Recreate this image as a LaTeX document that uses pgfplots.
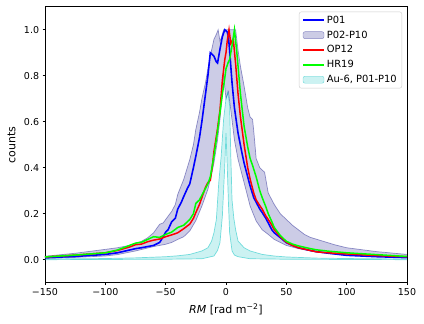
\documentclass[border=0pt]{standalone}
\usepackage{fontspec}
\setmainfont{DejaVu Sans}
\usepackage{pgfplots}
\pgfplotsset{compat=1.18}
\usepgfplotslibrary{fillbetween}
\definecolor{navyc}{RGB}{0,0,128}
\definecolor{cc}{RGB}{0,191,191}
\definecolor{limec}{RGB}{0,255,0}
\definecolor{redc}{RGB}{255,0,0}
\definecolor{bluec}{RGB}{0,0,255}
\newcommand\fs{\fontsize{9.5pt}{11pt}\selectfont}
\newcommand\fl{\fontsize{9.9pt}{11.5pt}\selectfont}
\newcommand\fa{\fontsize{11pt}{13pt}\selectfont}
\pgfplotsset{
  myarealegend/.style={legend image code/.code={\draw (0pt,-3.5pt) rectangle (21pt,3.5pt);}},
}
\begin{document}
\begin{tikzpicture}
\begin{axis}[scale only axis, width=362pt, height=276pt,
  xmin=-150, xmax=150, ymin=-0.1, ymax=1.1,
  xtick={-150,-100,-50,0,50,100,150},
  xticklabels={−150,−100,−50,0,50,100,150},
  ytick={0,0.2,0.4,0.6,0.8,1.0},
  yticklabels={0.0,0.2,0.4,0.6,0.8,1.0},
  tick align=outside, tick pos=left, major tick length=2.4pt,
  every tick/.style={black, line width=0.55pt},
  axis line style={line width=0.55pt},
  xticklabel style={font=\fs}, yticklabel style={font=\fs},
  xlabel={\textit{RM} [rad m\textsuperscript{−2}]}, ylabel={counts},
  xlabel style={font=\fa, at={(axis description cs:0.5,-0.098)}, anchor=center},
  ylabel style={font=\fa, at={(axis description cs:-0.092,0.5)}, anchor=center},
  legend style={at={(1,1)}, anchor=north east, xshift=-5pt, yshift=-5pt,
    draw=gray!40, rounded corners=2pt, fill=white, fill opacity=0.8, text opacity=1,
    font=\fl, row sep=2pt, cells={anchor=west}, inner xsep=3pt, inner ysep=2pt},
]
% legend
\addlegendimage{draw=bluec, line width=1.6pt, legend image code/.code={\draw[draw=bluec, line width=1.7pt] (0pt,0pt) -- (21pt,0pt);}}\addlegendentry{P01}
\addlegendimage{fill=navyc, fill opacity=0.2, draw=navyc, draw opacity=0.4, myarealegend}\addlegendentry{P02-P10}
\addlegendimage{draw=redc, line width=1.5pt, legend image code/.code={\draw[draw=redc, line width=1.5pt] (0pt,0pt) -- (21pt,0pt);}}\addlegendentry{OP12}
\addlegendimage{draw=limec, line width=1.5pt, legend image code/.code={\draw[draw=limec, line width=1.5pt] (0pt,0pt) -- (21pt,0pt);}}\addlegendentry{HR19}
\addlegendimage{fill=cc, fill opacity=0.2, draw=cc, draw opacity=0.5, myarealegend}\addlegendentry{Au-6, P01-P10}

% P02-P10 band
\addplot[name path=bu, draw=navyc, draw opacity=0.4, line width=0.7pt, forget plot] coordinates {
(-150,0.015)(-125,0.028)(-100,0.045)(-90,0.052)(-80,0.062)(-70,0.08)(-65,0.095)(-60,0.117)
(-55,0.154)(-52,0.16)(-50,0.175)(-45,0.21)(-42,0.24)(-40,0.284)(-35,0.35)(-30,0.436)
(-27,0.5)(-25,0.567)(-22,0.64)(-20,0.70)(-17,0.77)(-15,0.83)(-12,0.91)(-10,0.958)(-8,0.98)
(-6.5,1.0)(-5,0.95)(-3.5,0.97)(-2,1.0)(8,1.0)(10,0.91)(12,0.84)(15,0.755)(18,0.66)(20,0.62)
(22,0.61)(23,0.56)(25,0.44)(28,0.4)(30,0.39)(32,0.38)(35,0.29)(40,0.24)(45,0.2)(50,0.175)
(55,0.15)(60,0.13)(65,0.11)(70,0.097)(80,0.081)(90,0.065)(100,0.052)(125,0.035)(150,0.023)};
\addplot[name path=bl, draw=navyc, draw opacity=0.4, line width=0.7pt, forget plot] coordinates {
(-150,0.005)(-125,0.01)(-100,0.016)(-90,0.022)(-75,0.038)(-60,0.057)(-50,0.067)(-45,0.075)
(-40,0.088)(-35,0.1)(-30,0.125)(-25,0.17)(-20,0.233)(-15,0.306)(-12,0.37)(-10,0.42)(-7,0.52)
(-5,0.61)(-3,0.72)(-2,0.81)(-1,0.75)(0,0.70)(2,0.73)(4,0.65)(7,0.52)(10,0.436)(15,0.335)
(20,0.233)(25,0.168)(30,0.13)(35,0.11)(40,0.088)(50,0.062)(60,0.048)(75,0.033)(100,0.019)
(125,0.015)(150,0.012)};
\addplot[fill=navyc, fill opacity=0.2, draw=none, forget plot] fill between[of=bu and bl];

% Au-6 band
\addplot[name path=cu, draw=cc, draw opacity=0.5, line width=0.7pt, forget plot] coordinates {
(-150,0.003)(-100,0.005)(-75,0.008)(-50,0.013)(-40,0.017)(-30,0.023)(-20,0.038)(-15,0.052)
(-12,0.08)(-10,0.117)(-8,0.175)(-6,0.335)(-4,0.45)(-2,0.61)(0,0.70)(1.5,0.73)(3,0.67)(4,0.45)
(5,0.26)(6.5,0.18)(8,0.13)(10,0.081)(15,0.052)(20,0.038)(30,0.023)(40,0.016)(50,0.012)
(75,0.007)(100,0.005)(150,0.003)};
\addplot[name path=cl, draw=cc, draw opacity=0.5, line width=0.7pt, forget plot] coordinates {
(-150,0.0)(-50,0.002)(-20,0.004)(-10,0.016)(-7,0.04)(-5,0.074)(-3,0.19)(-2,0.3)(-1,0.41)
(0,0.55)(1,0.41)(2,0.25)(3,0.117)(5,0.038)(7,0.02)(10,0.013)(20,0.004)(50,0.002)(150,0.0)};
\addplot[fill=cc, fill opacity=0.2, draw=none, forget plot] fill between[of=cu and cl];

% P01
\addplot[bluec, line width=1.6pt, forget plot] coordinates {
(-150,0.009)(-125,0.014)(-100,0.023)(-90,0.03)(-80,0.042)(-75,0.048)(-70,0.052)(-65,0.057)
(-60,0.062)(-55,0.075)(-52,0.1)(-50,0.12)(-48,0.13)(-45,0.165)(-42,0.18)(-40,0.22)(-37,0.25)
(-35,0.275)(-32,0.31)(-30,0.33)(-27,0.4)(-25,0.45)(-22,0.53)(-20,0.6)(-17,0.72)(-15,0.8)
(-13,0.9)(-10,0.885)(-8,0.86)(-7,0.855)(-5,0.915)(-3,0.97)(-1,1.0)(1,0.99)(2,0.97)(3,0.91)
(5,0.77)(7,0.66)(10,0.55)(13,0.47)(15,0.42)(18,0.36)(20,0.32)(23,0.27)(25,0.25)(28,0.22)
(30,0.205)(33,0.18)(35,0.16)(38,0.13)(40,0.117)(45,0.096)(50,0.074)(55,0.062)(60,0.052)
(70,0.04)(75,0.035)(85,0.028)(100,0.019)(125,0.013)(150,0.009)};
% OP12
\addplot[redc, line width=1.5pt, forget plot] coordinates {
(-150,0.012)(-125,0.02)(-100,0.03)(-90,0.04)(-80,0.055)(-75,0.065)(-70,0.068)(-65,0.078)
(-60,0.085)(-55,0.09)(-50,0.1)(-45,0.108)(-40,0.117)(-35,0.135)(-30,0.155)(-27,0.18)(-25,0.205)
(-22,0.24)(-20,0.27)(-17,0.315)(-15,0.335)(-13,0.345)(-11,0.42)(-10,0.47)(-7,0.57)(-5,0.65)
(-3,0.78)(-1,0.87)(0,0.9)(1,0.95)(2.5,1.0)(4,0.94)(6,0.96)(8,0.85)(10,0.72)(12,0.62)(15,0.5)
(18,0.4)(20,0.35)(23,0.29)(25,0.26)(28,0.235)(30,0.22)(33,0.19)(35,0.175)(38,0.15)(40,0.13)
(45,0.1)(50,0.076)(55,0.062)(60,0.052)(70,0.04)(75,0.034)(85,0.03)(100,0.025)(125,0.018)(150,0.013)};
% HR19
\addplot[limec, line width=1.5pt, forget plot] coordinates {
(-150,0.012)(-125,0.02)(-100,0.03)(-90,0.042)(-80,0.062)(-75,0.072)(-70,0.076)(-65,0.088)
(-60,0.1)(-55,0.097)(-50,0.11)(-45,0.12)(-40,0.14)(-35,0.15)(-30,0.175)(-27,0.2)(-25,0.245)
(-22,0.26)(-20,0.28)(-17,0.31)(-15,0.33)(-13,0.36)(-11,0.42)(-10,0.45)(-7,0.56)(-5,0.64)
(-3,0.72)(-1,0.79)(0,0.83)(2,0.86)(3,0.87)(5,0.93)(7,1.0)(9,0.9)(10,0.84)(12,0.72)(15,0.58)
(18,0.49)(20,0.44)(22,0.41)(25,0.36)(28,0.3)(30,0.27)(33,0.23)(35,0.2)(38,0.165)(40,0.14)
(45,0.105)(50,0.08)(55,0.068)(60,0.06)(70,0.048)(75,0.043)(85,0.037)(100,0.03)(125,0.022)(150,0.014)};
\end{axis}
\path (-45pt,-41pt) rectangle (379pt,282.7pt);
\end{tikzpicture}
\end{document}
